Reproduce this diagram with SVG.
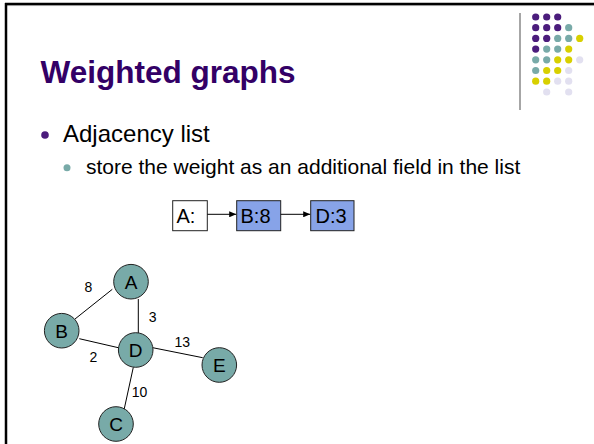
<svg xmlns="http://www.w3.org/2000/svg" width="594" height="444" viewBox="0 0 594 444">
<defs>
<style>
.t{font-family:"Liberation Sans",Arial,sans-serif;}
.title{font-size:31.5px;font-weight:bold;fill:#330066;}
.l1{font-size:24px;fill:#000;}
.l2{font-size:21px;fill:#000;}
.box{stroke:#222;stroke-width:1;}
.bt{font-size:20px;fill:#000;}
.node{fill:#78AAA8;stroke:#222;stroke-width:1;}
.nt{font-size:19px;fill:#000;text-anchor:middle;}
.edge{stroke:#000;stroke-width:1;fill:none;}
.w{font-size:14px;fill:#000;text-anchor:middle;}
.p{fill:#4B1C7C;}.c{fill:#78AAA8;}.y{fill:#D8D000;}.v{fill:#E2E0F0;}
</style>
<marker id="ah" markerWidth="8" markerHeight="6" refX="7" refY="3" orient="auto" markerUnits="userSpaceOnUse">
<path d="M0,0 L7,3 L0,6 Z" fill="#000"/>
</marker>
</defs>
<rect width="594" height="444" fill="#fff"/>
<!-- frame -->
<line x1="7" y1="5.6" x2="594" y2="5.6" stroke="#c8c8c8" stroke-width="1"/>
<line x1="5" y1="4" x2="594" y2="4" stroke="#000" stroke-width="2.5"/>
<line x1="6" y1="3" x2="6" y2="444" stroke="#000" stroke-width="2.5"/>
<!-- icon -->
<g id="icon">
<line x1="520" y1="13" x2="520" y2="110" stroke="#888" stroke-width="1.5"/>
<g>
<circle class="p" cx="535.7" cy="17" r="3.6"/><circle class="p" cx="546.7" cy="17" r="3.6"/><circle class="p" cx="557.7" cy="17" r="3.6"/>
<circle class="p" cx="535.7" cy="27.7" r="3.6"/><circle class="p" cx="546.7" cy="27.7" r="3.6"/><circle class="p" cx="557.7" cy="27.7" r="3.6"/><circle class="c" cx="568.7" cy="27.7" r="3.6"/>
<circle class="p" cx="535.7" cy="38.4" r="3.6"/><circle class="p" cx="546.7" cy="38.4" r="3.6"/><circle class="c" cx="557.7" cy="38.4" r="3.6"/><circle class="c" cx="568.7" cy="38.4" r="3.6"/><circle class="y" cx="579.7" cy="38.4" r="3.6"/>
<circle class="p" cx="535.7" cy="49.1" r="3.6"/><circle class="c" cx="546.7" cy="49.1" r="3.6"/><circle class="c" cx="557.7" cy="49.1" r="3.6"/><circle class="y" cx="568.7" cy="49.1" r="3.6"/>
<circle class="c" cx="535.7" cy="59.8" r="3.6"/><circle class="c" cx="546.7" cy="59.8" r="3.6"/><circle class="y" cx="557.7" cy="59.8" r="3.6"/><circle class="y" cx="568.7" cy="59.8" r="3.6"/><circle class="v" cx="579.7" cy="59.8" r="3.6"/>
<circle class="c" cx="535.7" cy="70.5" r="3.6"/><circle class="y" cx="546.7" cy="70.5" r="3.6"/><circle class="y" cx="557.7" cy="70.5" r="3.6"/><circle class="v" cx="568.7" cy="70.5" r="3.6"/>
<circle class="y" cx="535.7" cy="81.2" r="3.6"/><circle class="y" cx="546.7" cy="81.2" r="3.6"/><circle class="v" cx="557.7" cy="81.2" r="3.6"/><circle class="v" cx="568.7" cy="81.2" r="3.6"/>
<circle class="v" cx="546.7" cy="92" r="3.6"/><circle class="v" cx="568.7" cy="92" r="3.6"/>
</g>
</g>
<!-- text -->
<text class="t title" x="40.5" y="83">Weighted graphs</text>
<circle cx="45" cy="135" r="3.8" fill="#4B1C7C"/>
<text class="t l1" x="63" y="142">Adjacency list</text>
<circle cx="67" cy="167.7" r="3.5" fill="#78AAA8"/>
<text class="t l2" x="86" y="174">store the weight as an additional field in the list</text>
<!-- list boxes -->
<g id="boxA"><rect class="box" x="172.7" y="200.7" width="34.6" height="30" fill="#fff"/><text class="t bt" x="176.5" y="222.7">A:</text></g>
<g id="boxB"><rect class="box" x="236.7" y="200.7" width="44" height="30" fill="#87A3E8"/><text class="t bt" x="240.5" y="222.7">B:8</text></g>
<g id="boxD"><rect class="box" x="310.7" y="200.7" width="43.3" height="30" fill="#87A3E8"/><text class="t bt" x="315.5" y="222.7">D:3</text></g>
<g id="list-arrows">
<line class="edge" x1="207.3" y1="214.3" x2="236.2" y2="214.3" marker-end="url(#ah)"/>
<line class="edge" x1="280.7" y1="214.3" x2="310.2" y2="214.3" marker-end="url(#ah)"/>
</g>
<!-- graph edges -->
<g id="edges">
<line class="edge" x1="112.3" y1="289.3" x2="75" y2="319"/>
<line class="edge" x1="138.3" y1="299" x2="138.3" y2="333.5"/>
<line class="edge" x1="79.3" y1="338.7" x2="118.3" y2="347.7"/>
<line class="edge" x1="152.7" y1="347.7" x2="202.7" y2="357.7"/>
<line class="edge" x1="133.3" y1="367.3" x2="124" y2="410"/>
<text class="t w" x="88.3" y="292.3">8</text>
<text class="t w" x="152.7" y="322.3">3</text>
<text class="t w" x="93.3" y="362.3">2</text>
<text class="t w" x="182.3" y="347.3">13</text>
<text class="t w" x="139.5" y="397.3">10</text>
</g>
<g id="nodeA"><circle class="node" cx="131" cy="281.7" r="17.3"/><text class="t nt" x="131" y="288.5">A</text></g>
<g id="nodeB"><circle class="node" cx="61.7" cy="330.7" r="17.3"/><text class="t nt" x="61.7" y="337.5">B</text></g>
<g id="nodeD"><circle class="node" cx="135.7" cy="350" r="17.3"/><text class="t nt" x="135.7" y="356.8">D</text></g>
<g id="nodeE"><circle class="node" cx="219.3" cy="365" r="17.3"/><text class="t nt" x="219.3" y="371.8">E</text></g>
<g id="nodeC"><circle class="node" cx="116" cy="424" r="17.3"/><text class="t nt" x="116" y="430.8">C</text></g>
</svg>
